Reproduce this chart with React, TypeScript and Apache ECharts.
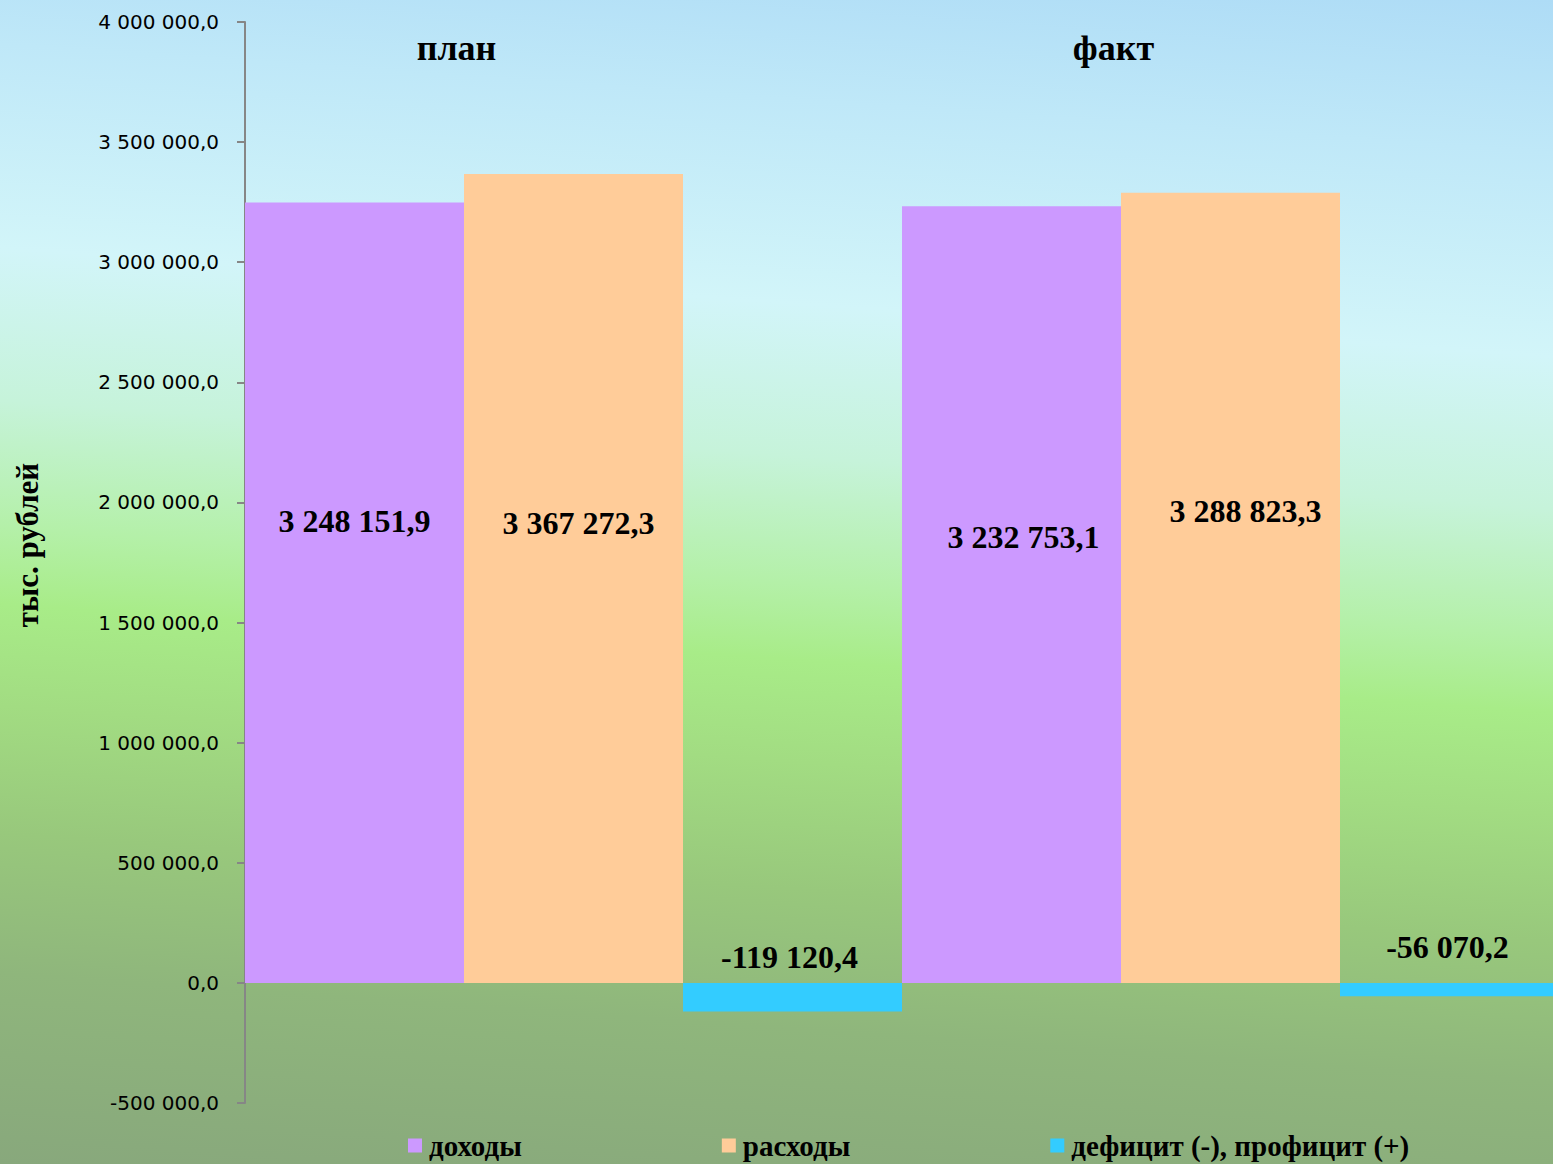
import React, { useEffect, useRef } from "react";
import * as echarts from "echarts";

const categories = ["план", "факт"];
const seriesNames = ["доходы", "расходы", "дефицит (-), профицит (+)"];
const incomeValues = [3248151.9, 3232753.1];
const expenseValues = [3367272.3, 3288823.3];
const balanceValues = [-119120.4, -56070.2];
const yMin = -500000;
const yMax = 4000000;
const yStep = 500000;
const axisTitle = "тыс. рублей";

const colors = ["#CC99FF", "#FFCC99", "#33CCFF"];
const incomeLabelOffsets = [[0, -72], [12, -58]];
const expenseLabelOffsets = [[5, -55], [15, -77]];
const balanceLabelOffsets = [[-3, -5], [-2, -15]];

function fmt(v: number): string {
  const s = Math.abs(v).toFixed(1);
  const [i, d] = s.split(".");
  const ii = i.replace(/\B(?=(\d{3})+(?!\d))/g, " ");
  return (v < 0 ? "-" : "") + ii + "," + d;
}

const serif = "'Liberation Serif', 'Times New Roman', serif";

function makeData(values: number[], offsets: number[][]) {
  return values.map((v, i) => ({ value: v, label: { offset: offsets[i] } }));
}

export default function App() {
  const ref = useRef<HTMLDivElement>(null);
  useEffect(() => {
    if (!ref.current) return;
    const chart = echarts.init(ref.current, undefined, { renderer: "svg" });
    const labelStyle = {
      show: true,
      fontFamily: serif,
      fontWeight: "bold",
      fontSize: 32,
      color: "#000",
      formatter: (p: any) => fmt(p.value),
    };
    chart.setOption({
      animation: false,
      backgroundColor: "transparent",
      grid: { left: 245, top: 22, bottom: 61, width: 1314, containLabel: false },
      legend: {
        data: seriesNames,
        left: 403,
        top: 1126,
        itemWidth: 14,
        itemHeight: 14,
        itemGap: 200,
        icon: "rect",
        textStyle: { fontFamily: serif, fontWeight: "bold", fontSize: 29, color: "#000", padding: [0, 0, 0, 2] },
      },
      xAxis: {
        type: "category",
        data: categories,
        position: "top",
        axisLine: { show: false },
        axisTick: { show: false },
        axisLabel: {
          inside: true,
          margin: 8,
          fontFamily: serif,
          fontWeight: "bold",
          fontSize: 36,
          color: "#000",
          padding: [0, 234, 0, 0],
        },
        splitLine: { show: false },
      },
      yAxis: {
        type: "value",
        min: yMin,
        max: yMax,
        interval: yStep,
        axisLine: { show: true, lineStyle: { color: "#868686", width: 2 } },
        axisTick: { show: true, length: 8, lineStyle: { color: "#868686", width: 2 } },
        splitLine: { show: false },
        axisLabel: {
          margin: 26,
          fontFamily: "'DejaVu Sans', sans-serif",
          fontSize: 20,
          color: "#000",
          formatter: (v: number) => fmt(v),
        },
      },
      graphic: [
        {
          type: "text",
          x: 27,
          y: 545,
          rotation: Math.PI / 2,
          style: {
            text: axisTitle,
            font: "bold 31px " + serif,
            fill: "#000",
            align: "center",
            verticalAlign: "middle",
          },
        },
      ],
      series: [
        {
          name: seriesNames[0],
          type: "bar",
          barGap: "0%",
          barCategoryGap: "0%",
          itemStyle: { color: colors[0] },
          label: { ...labelStyle, position: "inside" },
          data: makeData(incomeValues, incomeLabelOffsets),
        },
        {
          name: seriesNames[1],
          type: "bar",
          barGap: "0%",
          barCategoryGap: "0%",
          itemStyle: { color: colors[1] },
          label: { ...labelStyle, position: "inside" },
          data: makeData(expenseValues, expenseLabelOffsets),
        },
        {
          name: seriesNames[2],
          type: "bar",
          barGap: "0%",
          barCategoryGap: "0%",
          itemStyle: { color: colors[2] },
          label: { ...labelStyle, position: "top" },
          data: makeData(balanceValues, balanceLabelOffsets),
        },
      ],
    });
    return () => chart.dispose();
  }, []);
  return (
    <div
      style={{
        position: "fixed",
        left: 0,
        top: 0,
        width: 1553,
        height: 1164,
        overflow: "hidden",
        background:
          "linear-gradient(184deg, #aedcf6 0%, #bfe8f8 12%, #d2f5f9 28%, #c6f3da 40%, #b4f0a8 50%, #a8ec88 56%, #a2dc82 64%, #98c87c 74%, #8fb67c 85%, #88a87c 100%)",
      }}
    >
      <div ref={ref} style={{ width: 1560, height: 1164 }} />
    </div>
  );
}
